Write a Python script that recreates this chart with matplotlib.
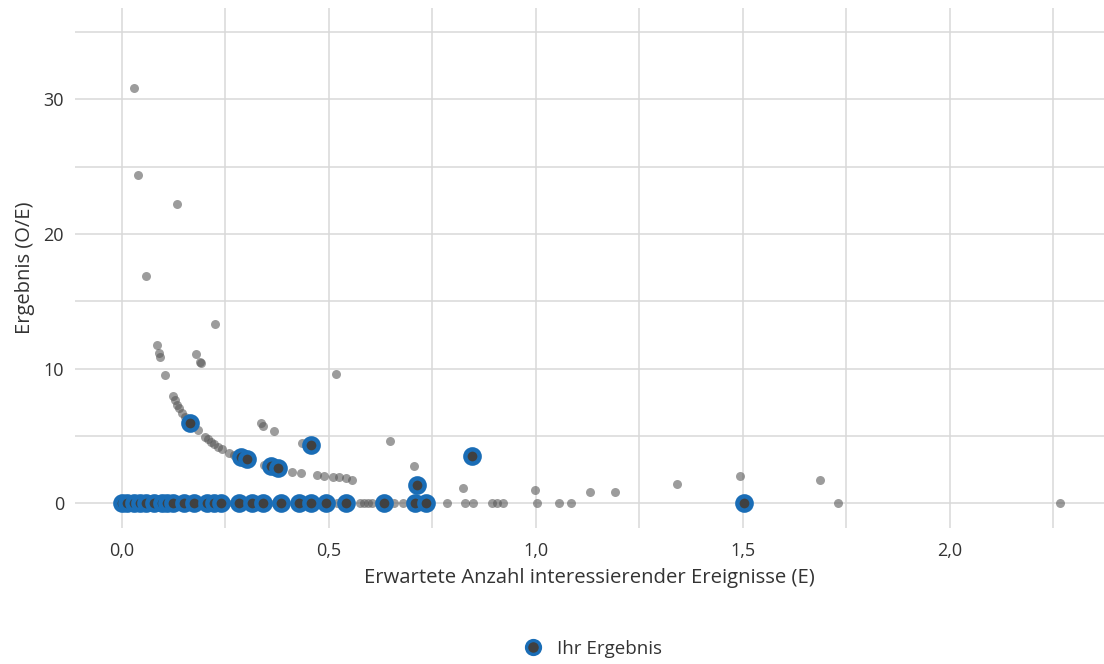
import matplotlib
matplotlib.use("Agg")
import matplotlib.pyplot as plt
from matplotlib.lines import Line2D
from matplotlib.ticker import FuncFormatter

plt.rcParams['font.family'] = ['Open Sans', 'DejaVu Sans']

# all units: expected (E) on x, observed/expected (O/E) on y
other_e = [0.030, 0.039, 0.134, 0.058, 0.224, 0.084, 0.089, 0.092, 0.104, 0.179,
           0.188, 0.192, 0.518, 0.648, 0.124, 0.129, 0.134, 0.138, 0.146, 0.153,
           0.183, 0.201, 0.207, 0.215, 0.223, 0.233, 0.243, 0.259, 0.271, 0.336,
           0.341, 0.367, 0.436, 0.344, 0.412, 0.432, 0.472, 0.489, 0.509, 0.525,
           0.541, 0.556, 0.706, 0.825, 0.998, 1.342, 1.494, 1.687, 1.131, 1.190,
           0.017, 0.050, 0.070, 0.115, 0.160, 0.255, 0.300, 0.370, 0.470, 0.520,
           0.575, 0.585, 0.595, 0.605, 0.658, 0.680, 0.786, 0.828, 0.849, 0.895,
           0.907, 0.921, 1.002, 1.055, 1.085, 1.729, 2.266]
other_oe = [30.8, 24.4, 22.2, 16.9, 13.3, 11.76, 11.14, 10.85, 9.53, 11.07,
            10.47, 10.4, 9.6, 4.6, 7.97, 7.68, 7.3, 7.06, 6.69, 6.39,
            5.45, 4.91, 4.76, 4.58, 4.41, 4.21, 4.02, 3.77, 3.6, 5.95,
            5.77, 5.4, 4.47, 2.86, 2.36, 2.24, 2.11, 2.04, 1.99, 1.94,
            1.87, 1.74, 2.8, 1.17, 0.98, 1.45, 2.04, 1.74, 0.85, 0.85,
            0, 0, 0, 0, 0, 0, 0, 0, 0, 0,
            0, 0, 0, 0, 0, 0, 0, 0, 0, 0,
            0, 0, 0, 0, 0, 0, 0]

# "Ihr Ergebnis"
own_e = [0.0, 0.013, 0.030, 0.044, 0.059, 0.078, 0.097, 0.110, 0.124, 0.150,
         0.175, 0.206, 0.223, 0.240, 0.283, 0.315, 0.341, 0.385, 0.428, 0.457,
         0.494, 0.542, 0.634, 0.708, 0.735, 1.503,
         0.164, 0.287, 0.303, 0.360, 0.378, 0.458, 0.845, 0.712]
own_oe = [0] * 26 + [6.0, 3.47, 3.28, 2.78, 2.66, 4.34, 3.52, 1.37]

x_ticks = [0.0, 0.5, 1.0, 1.5, 2.0]
y_ticks = [0, 10, 20, 30]

fig = plt.figure(figsize=(11.04, 6.64), dpi=100)
ax = fig.add_axes([75 / 1104, 136 / 664, 1029 / 1104, 520 / 664])

ax.scatter(other_e, other_oe, s=42, color='#5a5a5a', alpha=0.6, linewidths=0, zorder=2)
ax.scatter(own_e, own_oe, s=105, facecolor='#404040', edgecolor='#1a6db6',
           linewidths=3.2, zorder=3)

ax.set_xlim(-0.113, 2.372)
ax.set_ylim(-1.82, 36.76)
ax.set_xticks(x_ticks)
ax.set_xticks([0.25, 0.75, 1.25, 1.75, 2.25], minor=True)
ax.set_yticks(y_ticks)
ax.set_yticks([5, 15, 25, 35], minor=True)
ax.xaxis.set_major_formatter(FuncFormatter(lambda v, p: f"{v:.1f}".replace('.', ',')))
ax.grid(True, which='both', color='#d9d9d9', linewidth=1.1, zorder=0)
ax.set_axisbelow(True)
for s in ax.spines.values():
    s.set_visible(False)
ax.tick_params(which='both', length=0, labelsize=13, colors='#333333')
ax.tick_params(axis='x', pad=10)
ax.tick_params(axis='y', pad=8)

ax.set_xlabel('Erwartete Anzahl interessierender Ereignisse (E)', fontsize=14.6,
              color='#333333', labelpad=6)
ax.set_ylabel('Ergebnis (O/E)', fontsize=14.5, color='#333333', labelpad=6)

handle = Line2D([], [], linestyle='none', marker='o', markersize=10,
                markerfacecolor='#404040', markeredgecolor='#1a6db6', markeredgewidth=2.4)
fig.legend([handle], ['Ihr Ergebnis'], loc='center', bbox_to_anchor=(588 / 1104, 1 - 649 / 664),
           frameon=False, fontsize=13.5, handletextpad=0.3, labelcolor='#333333')

fig.savefig('out.png', dpi=100)
